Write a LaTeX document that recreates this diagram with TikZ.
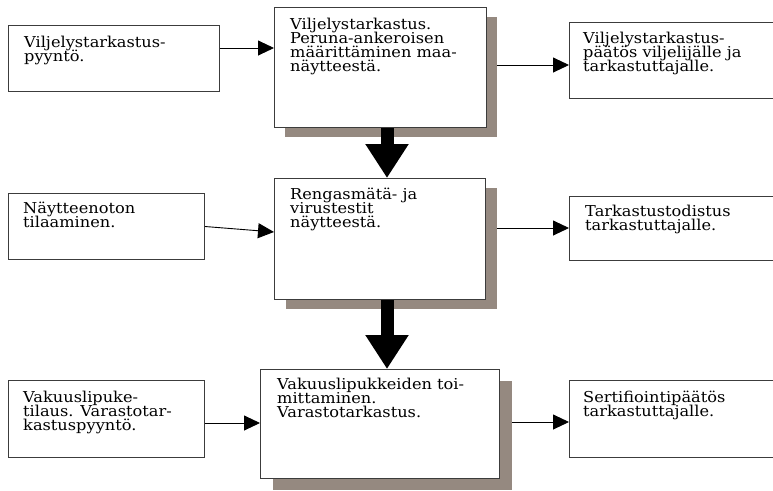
\documentclass[tikz,border=0pt]{standalone}
\usepackage{fontspec}
\setmainfont{DejaVu Serif}
\usetikzlibrary{arrows.meta}
\definecolor{shadowc}{RGB}{149,137,128}
\definecolor{boxgray}{RGB}{60,60,60}
\newcommand\ftxt[1]{\scalebox{1.08}[1]{\parbox[t]{230pt}{\raggedright\fontsize{15}{14}\selectfont\setlength\lineskiplimit{-20pt}#1}}}
\begin{document}
\begin{tikzpicture}[x=1pt,y=-1pt,
  box/.style={draw=boxgray,line width=1pt,fill=white,inner sep=0pt,anchor=north west},
  shadowbox/.style={fill=shadowc,draw=none,inner sep=0pt,anchor=north west},
  txt/.style={anchor=base west,inner sep=0pt},
  thinarrow/.style={draw=black,line width=0.9pt,-{Triangle[length=16pt,width=15pt]}},
  bigarrow/.style={draw=black,line width=13pt,-{Triangle[length=34pt,width=41pt]}}]
\useasboundingbox (0,0) rectangle (773,490);
\clip (0,0) rectangle (773,490);
% shadows
\node[shadowbox,minimum width=212pt,minimum height=120pt] (Bs) at (285,17) {};
\node[shadowbox,minimum width=211pt,minimum height=121pt] (Es) at (286,188) {};
\node[shadowbox,minimum width=239pt,minimum height=109pt] (Hs) at (273,381) {};
% boxes
\node[box,minimum width=211pt,minimum height=66pt] (A) at (8,25) {};
\node[box,minimum width=212pt,minimum height=120pt] (B) at (274,7) {};
\node[box,minimum width=231pt,minimum height=76pt] (C) at (569,22) {};
\node[box,minimum width=196pt,minimum height=66pt] (D) at (8,193) {};
\node[box,minimum width=211pt,minimum height=121pt] (E) at (274,178) {};
\node[box,minimum width=231pt,minimum height=64pt] (F) at (569,196) {};
\node[box,minimum width=196pt,minimum height=77pt] (G) at (8,380) {};
\node[box,minimum width=239pt,minimum height=109pt] (H) at (260,369) {};
\node[box,minimum width=231pt,minimum height=77pt] (I) at (569,380) {};
% texts
\node[txt] (tA) at (24,47) {\ftxt{Viljelystarkastus-\\pyyntö.}};
\node[txt] (tB) at (290,29) {\ftxt{Viljelystarkastus.\\Peruna-ankeroisen\\määrittäminen maa-\\näytteestä.}};
\node[txt] (tC) at (583,43) {\ftxt{Viljelystarkastus-\\päätös viljelijälle ja\\tarkastuttajalle.}};
\node[txt] (tD) at (23,213) {\ftxt{Näytteenoton\\tilaaminen.}};
\node[txt] (tE) at (290,199) {\ftxt{Rengasmätä- ja\\virustestit\\näytteestä.}};
\node[txt] (tF) at (585,216) {\ftxt{Tarkastustodistus\\tarkastuttajalle.}};
\node[txt] (tG) at (23,402) {\ftxt{Vakuuslipuke-\\tilaus. Varastotar-\\kastuspyyntö.}};
\node[txt] (tH) at (277,389) {\ftxt{Vakuuslipukkeiden toi-\\mittaminen.\\Varastotarkastus.}};
\node[txt] (tI) at (583,402) {\ftxt{Sertifiointipäätös\\tarkastuttajalle.}};
% thin arrows
\draw[thinarrow] ([yshift=-23pt]A.north east) -- ([yshift=-41pt]B.north west);
\draw[thinarrow] ([yshift=-48pt]Bs.north east) -- ([yshift=-43pt]C.north west);
\draw[thinarrow] (D.east) -- ([yshift=-54pt]E.north west);
\draw[thinarrow] ([yshift=-40pt]Es.north east) -- ([yshift=-32pt]F.north west);
\draw[thinarrow] ([yshift=-43pt]G.north east) -- ([yshift=-54pt]H.north west);
\draw[thinarrow] ([yshift=-41pt]Hs.north east) -- ([yshift=-42pt]I.north west);
% big arrows
\draw[bigarrow] ([xshift=6.5pt]B.south) -- ([xshift=7pt]E.north);
\draw[bigarrow] ([xshift=7pt]E.south) -- ([xshift=7pt]H.north);
\end{tikzpicture}
\end{document}
